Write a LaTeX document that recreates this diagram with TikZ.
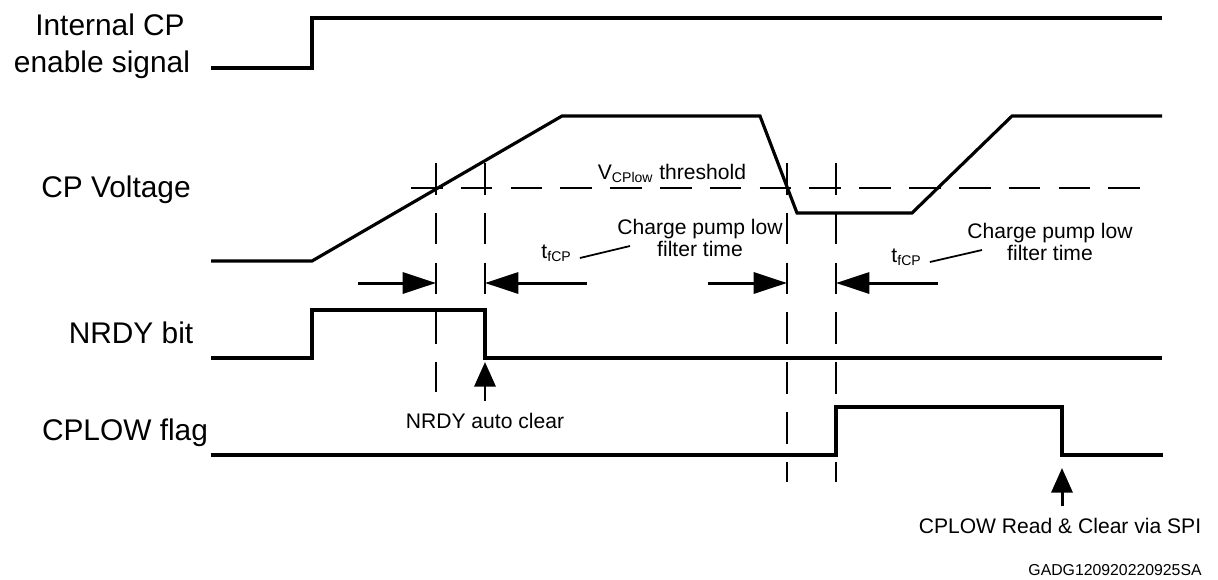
\documentclass[tikz,border=0pt]{standalone}
\usepackage{fontspec}
\setmainfont{Liberation Sans}
\usetikzlibrary{arrows.meta}

\begin{document}
\begin{tikzpicture}[
x=0.02cm, y=-0.02cm,
wave/.style={line width=1.8pt, line join=miter},
guideline/.style={line width=1pt, dash pattern=on 18pt off 10.35pt},
gaparrow/.style={line width=1.7pt, -{Triangle[length=19pt,width=12pt]}},
eventarrow/.style={line width=1.7pt, -{Triangle[length=14pt,width=12pt]}},
leaderline/.style={line width=1pt},
biglabel/.style={font=\fontsize{17}{20}\selectfont, anchor=base},
smalllabel/.style={font=\fontsize{12}{12.5}\selectfont, align=center},
every node/.style={inner sep=0pt}
]
\useasboundingbox (0,0) rectangle (1218,579);

% signal names
\node[biglabel] (enA) at (110,35) {Internal CP};
\node[biglabel] (enB) at (102,72) {enable signal};
\node[biglabel] (cpv) at (116,197) {CP Voltage};
\node[biglabel] (nrdy) at (131,343) {NRDY bit};
\node[biglabel] (cplow) at (125,440) {CPLOW flag};

% waveforms
\draw[wave] (211,68) -- (312,68) -- (312,18) -- (1162,18);
\draw[wave] (211,261) -- (312,261) -- (562,116) -- (760,116)
  -- (797,213) -- (912,213) -- (1012,116) -- (1162,116);
\draw[wave] (211,358) -- (312,358) -- (312,310) -- (485,310)
  -- (485,358) -- (1162,358);
\draw[wave] (211,455) -- (836,455) -- (836,407) -- (1062,407)
  -- (1062,455) -- (1163,455);

% threshold and guides
\draw[guideline] (411,188) -- (1142,188);
\draw[guideline] (436,163) -- (436,392);
\draw[guideline] (485,163) -- (485,310);
\draw[guideline] (787,163) -- (787,482);
\draw[guideline] (836,163) -- (836,482);
\node[smalllabel, anchor=base] (vth) at (672,179) {V\textsubscript{CPlow} threshold};

% filter time markers
\coordinate (g1) at (436,283);
\coordinate (g2) at (485,283);
\coordinate (g3) at (787,283);
\coordinate (g4) at (836,283);
\draw[gaparrow] (358,283) -- (g1);
\draw[gaparrow] (587,283) -- (g2);
\draw[gaparrow] (708,283) -- (g3);
\draw[gaparrow] (938,283) -- (g4);

\node[smalllabel] (cpA) at (700,238) {Charge pump low\\filter time};
\node[smalllabel, anchor=base east] (tA) at (572,258) {t\textsubscript{fCP}};
\coordinate (tAend) at (630,246);
\draw[leaderline] ([xshift=4.5pt]tA.base east) -- (tAend);

\node[smalllabel] (cpB) at (1050,242) {Charge pump low\\filter time};
\node[smalllabel, anchor=base east] (tB) at (922,262) {t\textsubscript{fCP}};
\coordinate (tBend) at (982,250);
\draw[leaderline] ([xshift=4.5pt]tB.base east) -- (tBend);

% events
\node[smalllabel, anchor=base] (auto) at (485,428) {NRDY auto clear};
\draw[eventarrow] (485,401) -- (485,362);
\node[smalllabel, anchor=base] (spi) at (1060,533) {CPLOW Read \& Clear via SPI};
\draw[eventarrow] (1062,506) -- (1062,468);

\node[font=\fontsize{9}{10}\selectfont, anchor=base east] (code) at (1202,575) {GADG120920220925SA};
\end{tikzpicture}
\end{document}
